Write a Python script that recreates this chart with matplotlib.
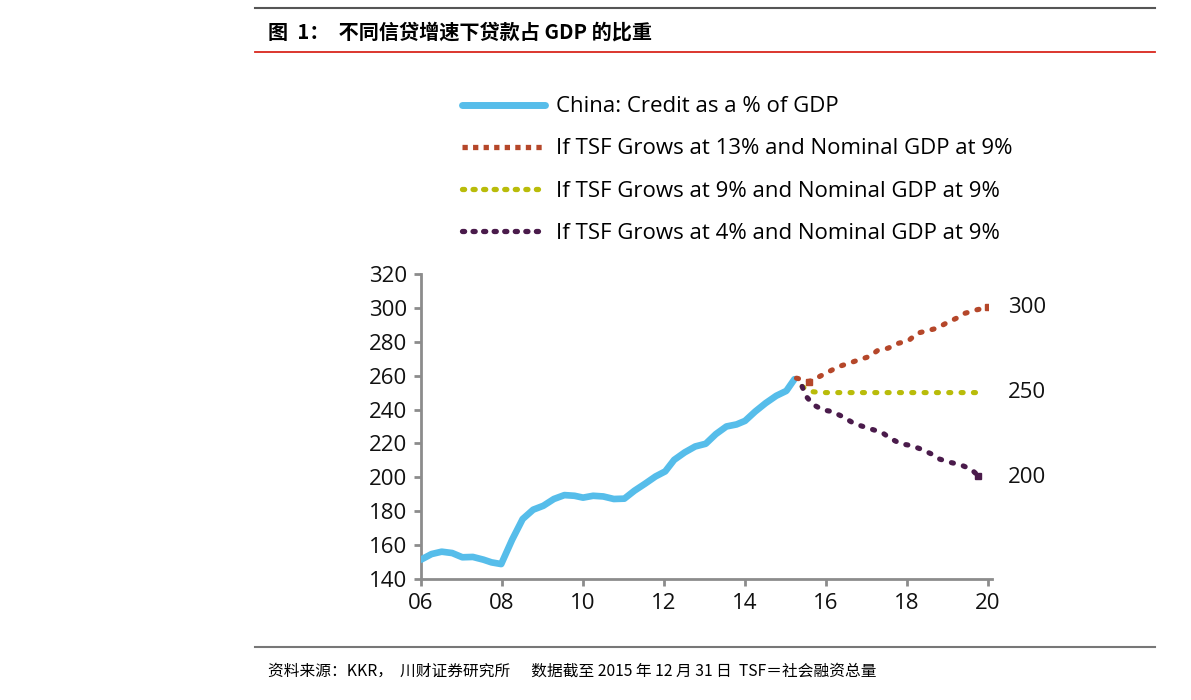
import matplotlib
matplotlib.use("Agg")
import matplotlib.pyplot as plt
from matplotlib.lines import Line2D

plt.rcParams['font.family'] = ['Noto Sans CJK SC', 'DejaVu Sans']

# ---- data ----
hist_x = [2006.0, 2006.26, 2006.51, 2006.77, 2007.02, 2007.28, 2007.54, 2007.74, 2007.98,
          2008.25, 2008.51, 2008.77, 2009.02, 2009.28, 2009.54, 2009.79, 2010.0, 2010.25,
          2010.5, 2010.76, 2011.02, 2011.27, 2011.53, 2011.79, 2012.03, 2012.25, 2012.51,
          2012.77, 2013.03, 2013.28, 2013.54, 2013.79, 2014.0, 2014.25, 2014.51, 2014.77,
          2015.02, 2015.22]
hist_y = [151.4, 154.7, 156.1, 155.3, 152.8, 153.0, 151.4, 149.8, 148.8,
          163.2, 175.4, 180.9, 183.2, 187.2, 189.5, 189.1, 188.0, 189.1,
          188.7, 187.2, 187.4, 192.1, 196.2, 200.5, 203.5, 210.3, 214.7,
          218.2, 219.8, 225.5, 230.0, 231.2, 233.3, 238.8, 243.8, 248.1,
          251.0, 257.9]

s13_x = [2015.27, 2015.45, 2015.58, 2015.84, 2016.07, 2016.32, 2016.56, 2016.81, 2017.07,
         2017.27, 2017.53, 2017.79, 2018.04, 2018.25, 2018.48, 2018.74, 2018.96, 2019.22,
         2019.43, 2019.71, 2020.0]
s13_y = [258.5, 257.5, 256.5, 259.5, 262.4, 265.4, 267.3, 269.3, 271.3,
         274.8, 276.2, 279.1, 280.7, 285.0, 286.4, 288.0, 290.9, 293.9,
         296.8, 298.8, 300.3]

s9_x = [2015.41, 2015.63, 2015.9, 2016.15, 2016.4, 2016.65, 2016.9, 2017.15, 2017.4, 2017.65,
        2017.9, 2018.15, 2018.4, 2018.65, 2018.9, 2019.15, 2019.4, 2019.65, 2019.9]
s9_y = [253.6, 250.6, 250.0, 250.0, 250.0, 250.0, 250.0, 250.0, 250.0, 250.0,
        250.0, 250.0, 250.0, 250.0, 250.0, 250.0, 250.0, 250.0, 250.0]

s4_x = [2015.41, 2015.51, 2015.69, 2015.92, 2016.15, 2016.40, 2016.64, 2016.86, 2017.12,
        2017.38, 2017.58, 2017.84, 2018.09, 2018.35, 2018.59, 2018.81, 2019.07, 2019.32,
        2019.58, 2019.76]
s4_y = [253.6, 247.7, 242.8, 239.8, 238.8, 235.9, 232.5, 230.4, 228.4,
        226.5, 223.1, 219.8, 218.8, 216.6, 213.9, 210.7, 208.8, 207.4,
        204.8, 200.9]

labels = ["China: Credit as a % of GDP",
          "If TSF Grows at 13% and Nominal GDP at 9%",
          "If TSF Grows at 9% and Nominal GDP at 9%",
          "If TSF Grows at 4% and Nominal GDP at 9%"]
end_labels = ["300", "250", "200"]
end_values = [300, 250, 200]
xticks = [2006, 2008, 2010, 2012, 2014, 2016, 2018, 2020]
xticklabels = ["06", "08", "10", "12", "14", "16", "18", "20"]
yticks = list(range(140, 321, 20))

title = "图  1：  不同信贷增速下贷款占 GDP 的比重"
footnote = "资料来源：KKR，  川财证券研究所      数据截至 2015 年 12 月 31 日  TSF＝社会融资总量"

# ---- colours ----
c_blue = "#56BDEA"
c_orange = "#B5472A"
c_green = "#B9BC0A"
c_purple = "#4A1B4B"
c_axis = "#8C8C8C"

fig = plt.figure(figsize=(11.91, 7.0), dpi=100)
ax = fig.add_axes([0.3535, 0.1729, 0.4761, 0.4357])

ax.plot(hist_x, hist_y, color=c_blue, lw=4.8, solid_capstyle='round', zorder=3)
dot = (0, (0.4, 2.0))
ax.plot(s13_x, s13_y, color=c_orange, lw=3.7, linestyle=dot, dash_capstyle='round', zorder=4)
ax.plot(s9_x, s9_y, color=c_green, lw=3.7, linestyle=dot, dash_capstyle='round', zorder=4)
ax.plot(s4_x, s4_y, color=c_purple, lw=3.7, linestyle=dot, dash_capstyle='round', zorder=4)
ax.plot([s13_x[-1]], [s13_y[-1]], marker='s', ms=5, color=c_orange, zorder=5)
ax.plot([s13_x[2]], [s13_y[2]], marker='s', ms=5, color=c_orange, zorder=5)
ax.plot([s4_x[-1]], [s4_y[-1]], marker='s', ms=5, color=c_purple, zorder=5)

ax.set_xlim(2006, 2020)
ax.set_ylim(140, 320)
ax.set_xticks(xticks)
ax.set_xticklabels(xticklabels)
ax.set_yticks(yticks)
for s in ['top', 'right']:
    ax.spines[s].set_visible(False)
for s in ['left', 'bottom']:
    ax.spines[s].set_color(c_axis)
    ax.spines[s].set_linewidth(2)
ax.spines['bottom'].set_bounds(2006, 2020.1)
ax.tick_params(axis='both', colors=c_axis, width=2, length=5, labelsize=16,
               labelcolor='#111111', pad=5)
for lab in ax.get_xticklabels() + ax.get_yticklabels():
    lab.set_family(['Open Sans', 'DejaVu Sans'])

for lbl, v in zip(end_labels, end_values):
    ax.text(2020.5, v, lbl, fontsize=16, va='center', ha='left', color='#111111',
            family=['Open Sans', 'DejaVu Sans'])

handles = [Line2D([], [], color=c_blue, lw=5, solid_capstyle='round'),
           Line2D([], [], color=c_orange, lw=3.8, linestyle=(0, (1.0, 1.0))),
           Line2D([], [], color=c_green, lw=3.8, linestyle=(0, (0.4, 1.6)), dash_capstyle='round'),
           Line2D([], [], color=c_purple, lw=3.8, linestyle=(0, (0.4, 1.6)), dash_capstyle='round')]
leg = fig.legend(handles, labels, loc='upper left', bbox_to_anchor=(0.371, 0.891),
                 frameon=False, handlelength=3.75, handletextpad=0.5,
                 labelspacing=0.95, prop={'family': ['Open Sans', 'DejaVu Sans'], 'size': 16})

# header / footer decoration
fig.add_artist(Line2D([255/1191, 1155/1191], [1-8/700, 1-8/700], color='#555555', lw=1.5))
fig.add_artist(Line2D([255/1191, 1155/1191], [1-52/700, 1-52/700], color='#D9261C', lw=1.3))
fig.add_artist(Line2D([255/1191, 1155/1191], [1-647/700, 1-647/700], color='#777777', lw=1.5))
fig.text(268/1191, 1-32/700, title, fontsize=14.5, fontweight='bold', va='center', ha='left',
         family=['Noto Sans CJK SC', 'DejaVu Sans'])
fig.text(268/1191, 1-671/700, footnote, fontsize=11.3, va='center', ha='left', style='italic',
         family=['Noto Sans CJK SC', 'DejaVu Sans'])

fig.savefig("out.png", dpi=100)
